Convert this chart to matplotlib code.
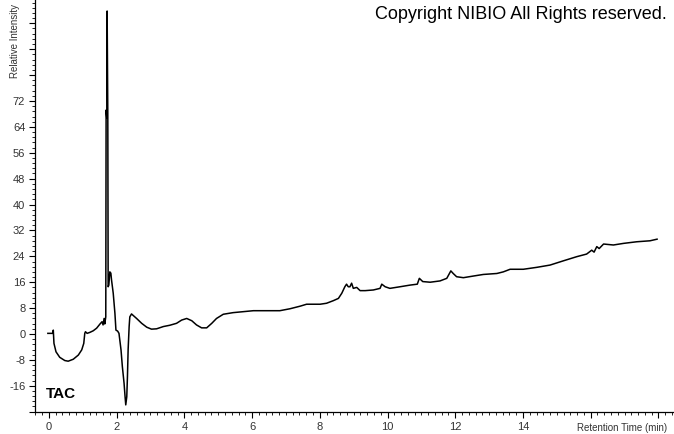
import matplotlib.pyplot as plt
from matplotlib.ticker import AutoMinorLocator

plt.rcParams['font.family'] = ['Liberation Sans', 'DejaVu Sans']

# retention time (min) and relative intensity
rt = [-0.03, 0.12, 0.13, 0.15, 0.21, 0.32, 0.47, 0.57, 0.72, 0.87, 0.97, 1.03,
      1.06, 1.08, 1.13, 1.21, 1.31, 1.41, 1.51, 1.57, 1.60, 1.63, 1.65, 1.68,
      1.69, 1.71, 1.72, 1.74, 1.75, 1.77, 1.80, 1.83, 1.85, 1.90, 1.95, 1.98,
      2.03, 2.07, 2.13, 2.17, 2.22, 2.25, 2.27, 2.30, 2.32, 2.34, 2.37, 2.39,
      2.44, 2.59, 2.74, 2.89, 3.03, 3.18, 3.38, 3.57, 3.77, 3.92, 4.07, 4.22,
      4.36, 4.51, 4.66, 4.81, 4.95, 5.15, 5.44, 5.74, 6.04, 6.43, 6.82, 7.12,
      7.42, 7.61, 8.01, 8.20, 8.40, 8.55, 8.65, 8.74, 8.79, 8.84, 8.89, 8.94,
      8.99, 9.09, 9.19, 9.34, 9.58, 9.78, 9.83, 9.93, 10.07, 10.37, 10.66, 10.88,
      10.94, 11.04, 11.26, 11.55, 11.75, 11.87, 11.94, 12.04, 12.24, 12.53, 12.83,
      13.23, 13.42, 13.62, 14.01, 14.41, 14.80, 15.19, 15.59, 15.88, 16.03, 16.10,
      16.18, 16.25, 16.38, 16.67, 16.97, 17.36, 17.75, 17.96]
intensity = [0.2, 0.2, 1.2, -2.9, -5.5, -7.2, -8.2, -8.4, -7.8, -6.5, -4.9, -2.9,
             0.2, 0.7, 0.2, 0.5, 1.0, 1.8, 3.1, 3.8, 2.8, 4.8, 3.1, 5.3,
             69.2, 66.7, 99.8, 67.6, 14.6, 15.1, 19.2, 18.8, 16.7, 12.6, 6.4, 1.2,
             0.9, 0.2, -4.9, -10.1, -15.2, -19.4, -21.9, -19.4, -13.2, -4.9, 2.3, 5.3,
             6.2, 4.8, 3.3, 2.1, 1.5, 1.6, 2.3, 2.7, 3.3, 4.3, 4.8, 4.1,
             2.8, 1.9, 1.9, 3.3, 4.8, 6.1, 6.6, 6.9, 7.2, 7.2, 7.2, 7.8,
             8.6, 9.2, 9.2, 9.5, 10.3, 11.0, 12.6, 14.6, 15.4, 14.6, 14.6, 15.7,
             14.1, 14.4, 13.4, 13.4, 13.6, 14.1, 15.4, 14.6, 14.1, 14.6, 15.1, 15.4,
             17.2, 16.2, 16.0, 16.4, 17.2, 19.5, 18.7, 17.7, 17.4, 17.9, 18.4,
             18.7, 19.2, 20.0, 20.0, 20.6, 21.3, 22.6, 23.9, 24.7, 25.9, 25.3,
             27.0, 26.4, 27.8, 27.5, 28.0, 28.5, 28.8, 29.3]

ytick_vals = list(range(-24, 104, 8))
ytick_labels = [str(v) if -16 <= v <= 72 else '' for v in ytick_vals]
xtick_vals = list(range(0, 20, 2))
xtick_labels = [str(v) if v <= 14 else '' for v in xtick_vals]

fig = plt.figure(figsize=(6.74, 4.34), dpi=100)
ax = fig.add_axes([35 / 674, 22 / 434, 1 - 35 / 674, 1 - 22 / 434])

ax.plot(rt, intensity, color='black', lw=1.1)

ax.set_xlim(-0.41, 18.46)
ax.set_ylim(-24.1, 103.2)
ax.set_xticks(xtick_vals)
ax.set_xticklabels(xtick_labels)
ax.set_yticks(ytick_vals)
ax.set_yticklabels(ytick_labels)
ax.xaxis.set_minor_locator(AutoMinorLocator(10))
ax.yaxis.set_minor_locator(AutoMinorLocator(5))
ax.tick_params(which='major', length=4, width=0.8, labelsize=8, colors='black',
               labelcolor='#333333', pad=3)
ax.tick_params(which='minor', length=2.5, width=0.6, colors='black')

for s in ['top', 'right']:
    ax.spines[s].set_visible(False)
for s in ['left', 'bottom']:
    ax.spines[s].set_linewidth(0.9)

ax.text(-0.1, -18.5, 'TAC', fontsize=11, fontweight='bold', va='center', ha='left')

fig.text(15 / 674, 1 - 78 / 434, 'Relative Intensity', rotation=90,
         ha='center', va='bottom', fontsize=7, color='#333333')
fig.text(667 / 674, 1 - 428 / 434, 'Retention Time (min)', ha='right',
         va='center', fontsize=7, color='#333333')
fig.text(667 / 674, 1 - 6 / 434, 'Copyright NIBIO All Rights reserved.',
         ha='right', va='top', fontsize=13, color='black')

fig.savefig('out.png', dpi=100)
